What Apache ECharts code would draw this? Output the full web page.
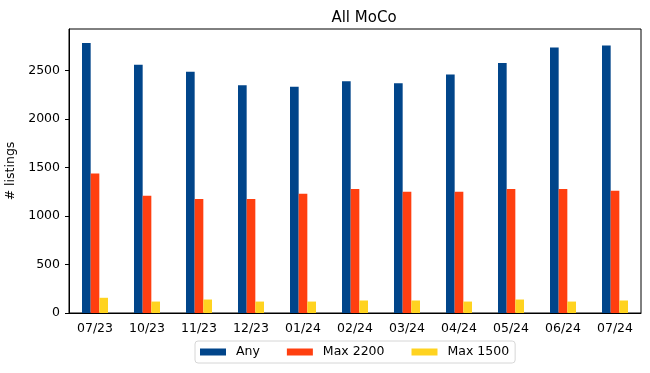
<!DOCTYPE html>
<html><head><meta charset="utf-8">
<script src="https://cdn.jsdelivr.net/npm/echarts@6/dist/echarts.min.js"></script>
<style>html,body{margin:0;padding:0;background:#fff}#c{width:650px;height:373px}</style>
</head><body><div id="c"></div>
<script>
const categories = ["07/23","10/23","11/23","12/23","01/24","02/24","03/24","04/24","05/24","06/24","07/24"];
const anyVals = [2785, 2560, 2490, 2350, 2335, 2390, 2370, 2460, 2580, 2740, 2760];
const max2200 = [1440, 1210, 1175, 1175, 1230, 1280, 1250, 1250, 1280, 1280, 1262];
const max1500 = [157, 118, 139, 118, 118, 129, 129, 118, 139, 118, 129];
const yTicks = [0, 500, 1000, 1500, 2000, 2500];
const seriesNames = ["Any", "Max 2200", "Max 1500"];
const colors = ["#01458a", "#ff3f10", "#ffd320"];

const font = "DejaVu Sans";
const fs = 12.5;
const chart = echarts.init(document.getElementById('c'), null, {renderer: 'canvas'});
const mk = (name, data, color) => ({
  name, type: 'bar', data, barGap: '0%', barCategoryGap: '50%',
  itemStyle: {color}, emphasis: {disabled: true}
});
chart.setOption({
  animation: false,
  textStyle: {fontFamily: font},
  title: {text: "All MoCo", left: 359, top: 6, textAlign: 'center',
    textStyle: {fontFamily: font, fontSize: 15, fontWeight: 'normal', color: '#000'}},
  grid: {left: 69, right: 9, top: 29, bottom: 60, containLabel: false, outerBoundsMode: 'none',
    show: true, borderColor: '#000', borderWidth: 1, backgroundColor: 'transparent'},
  legend: {
    data: seriesNames, top: 341, left: 195,
    itemWidth: 26, itemHeight: 7, itemGap: 27,
    icon: 'rect',
    borderColor: '#d6d6d6', borderWidth: 1, borderRadius: 3,
    padding: [4, 6, 4, 5],
    textStyle: {fontFamily: font, fontSize: fs, color: '#000', lineHeight: 14, padding: [0, 0, 0, 5]}
  },
  xAxis: {
    type: 'category', data: categories,
    axisLine: {lineStyle: {color: '#000'}},
    axisTick: {alignWithLabel: true, length: 4, lineStyle: {color: '#000'}},
    axisLabel: {color: '#000', fontSize: fs, margin: 9, fontFamily: font}
  },
  yAxis: {
    type: 'value', min: 0, max: 2930, interval: 500,
    name: '# listings', nameLocation: 'middle', nameGap: 50,
    nameTextStyle: {color: '#000', fontSize: fs, fontFamily: font},
    splitLine: {show: false},
    axisLine: {show: true, lineStyle: {color: '#000'}},
    axisTick: {show: true, length: 4, lineStyle: {color: '#000'}},
    axisLabel: {color: '#000', fontSize: fs, margin: 9, fontFamily: font, showMaxLabel: false,
      formatter: v => yTicks.includes(v) ? String(v) : ''}
  },
  series: [mk(seriesNames[0], anyVals, colors[0]), mk(seriesNames[1], max2200, colors[1]), mk(seriesNames[2], max1500, colors[2])]
});
</script></body></html>
